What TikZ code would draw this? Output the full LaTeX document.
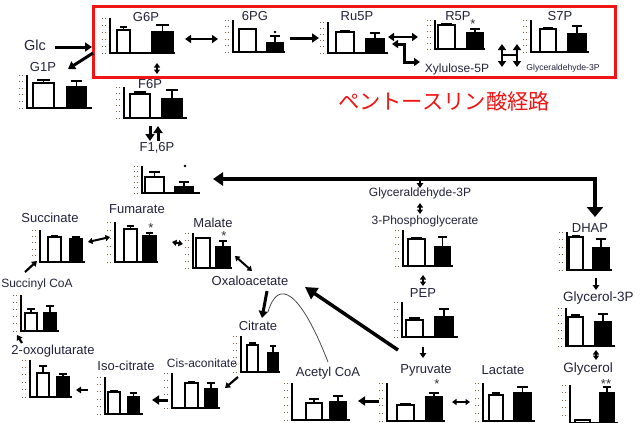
\documentclass[tikz,border=0pt]{standalone}
\usepackage{fontspec}
\setmainfont{Liberation Sans}
\newfontfamily\cjkfont{Noto Sans CJK JP}
\usetikzlibrary{arrows.meta}
\definecolor{lblc}{RGB}{35,35,60}
\definecolor{tickc}{RGB}{125,95,65}
\definecolor{boxred}{RGB}{240,20,20}
\tikzset{
  lbl/.style={font=\fontsize{13}{13}\selectfont, text=lblc, inner sep=0pt},
  midlbl/.style={font=\fontsize{12}{12}\selectfont, text=lblc, inner sep=0pt},
  biglbl/.style={font=\fontsize{14.5}{14.5}\selectfont, text=lblc, inner sep=0pt},
  glylbl/.style={font=\fontsize{13.5}{13.5}\selectfont, text=lblc, inner sep=0pt},
  smalllbl/.style={font=\fontsize{8.6}{9}\selectfont, text=lblc, inner sep=0pt},
  starlbl/.style={font=\fontsize{13}{13}\selectfont, text=black!80, inner sep=0pt},
  ax/.style={line width=1.1pt, draw=black},
  eb/.style={line width=1.1pt, draw=black},
  wb/.style={draw=black, line width=1.4pt, fill=white},
  bb/.style={draw=black, line width=1.4pt, fill=black},
  tk/.style={line width=1pt, dash pattern=on 1.2pt off 1.3pt, draw=tickc},
  dotmark/.style={circle, fill=black, inner sep=0pt, minimum size=2.6pt},
  arr/.style={line width=3pt, -{Triangle[length=7pt,width=9pt]}},
  darr/.style={line width=2.6pt, {Triangle[length=6pt,width=8pt]}-{Triangle[length=6pt,width=8pt]}},
  sarr/.style={line width=2.2pt, -{Triangle[length=5pt,width=6.5pt]}},
  sdarr/.style={line width=2pt, {Triangle[length=4.5pt,width=6pt]}-{Triangle[length=4.5pt,width=6pt]}},
}
\newcommand\chartaxes[4]{%
  \def\cb{#3}%
  \foreach \i in {0,...,5}{\pgfmathsetmacro\yy{#3+(#2-#3)*\i/5}\draw[tk] (#1-8,\yy) -- (#1-3,\yy);}%
  \draw[ax] (#1,#2) -- (#1,#3) -- (#4,#3);}
\newcommand\wbar[4]{%
  \draw[eb] ({(#1+#2)/2},#3) -- ({(#1+#2)/2},#4) ({(#1+#2)/2-0.3*(#2-#1)},#4) -- ({(#1+#2)/2+0.3*(#2-#1)},#4);
  \draw[wb] (#1,\cb) rectangle (#2,#3);}
\newcommand\bbar[4]{%
  \draw[eb] ({(#1+#2)/2},#3) -- ({(#1+#2)/2},#4) ({(#1+#2)/2-0.3*(#2-#1)},#4) -- ({(#1+#2)/2+0.3*(#2-#1)},#4);
  \draw[bb] (#1,\cb) rectangle (#2,#3);}
\begin{document}
\begin{tikzpicture}[x=1pt,y=-1pt]
\fill[white] (0,0) rectangle (640,423);
\useasboundingbox (0,0) rectangle (640,423);

% ---------- pentose phosphate box ----------
\draw[boxred, line width=3pt] (93,6) rectangle (615,77);
\node[font=\cjkfont\fontsize{21.3}{22}\selectfont, text=boxred, inner sep=0pt] (ppp) at (444,101) {ペントースリン酸経路};

% ---------- charts ----------
% G1P
\chartaxes{27}{75}{108}{92}\wbar{33}{54}{83}{80}\bbar{67}{86}{87}{81}
% G6P
\chartaxes{110}{18}{53}{175}\wbar{117}{130}{30}{27}\bbar{152}{173}{32}{25}
% 6PG
\chartaxes{233}{20}{52}{285}\wbar{239}{256}{29}{29}\bbar{267}{283}{43}{36}
% Ru5P
\chartaxes{328}{22}{53}{388}\wbar{336}{354}{32}{31}\bbar{366}{384}{39}{33}
% R5P
\chartaxes{435}{20}{49}{485}\wbar{438}{455}{25}{24}\bbar{467}{483}{33}{29}
% S7P
\chartaxes{531}{20}{52}{589}\wbar{540}{556}{29}{28}\bbar{568}{586}{34}{26}
% F6P
\chartaxes{124}{87}{118}{187}\wbar{130}{150}{94}{92}\bbar{162}{182}{99}{90}
% F1,6P
\chartaxes{142}{166}{193}{200}\wbar{145}{164}{177}{172}\bbar{175}{193}{187}{182}
% Succinate
\chartaxes{40}{230}{262}{85}\wbar{48}{61}{237}{236}\bbar{70}{82}{239}{237}
% Fumarate
\chartaxes{115}{222}{262}{158}\wbar{124}{137}{229}{226}\bbar{143}{156}{236}{233}
% Malate
\chartaxes{193}{233}{268}{232}\wbar{196}{210}{238}{238}\bbar{216}{230}{247}{241}
% Succinyl CoA
\chartaxes{21}{295}{331}{59}\wbar{25}{37}{313}{309}\bbar{44}{56}{313}{306}
% 2-oxoglutarate
\chartaxes{30}{360}{397}{72}\wbar{37}{49}{373}{366}\bbar{57}{69}{377}{374}
% Iso-citrate
\chartaxes{105}{377}{414}{143}\wbar{108}{120}{392}{391}\bbar{128}{139}{397}{393}
% Cis-aconitate
\chartaxes{172}{373}{408}{220}\wbar{185}{198}{383}{382}\bbar{205}{217}{389}{383}
% Citrate
\chartaxes{241}{336}{372}{280}\wbar{247}{258}{345}{343}\bbar{268}{278}{353}{346}
% Acetyl CoA
\chartaxes{292}{383}{420}{350}\wbar{306}{322}{403}{399}\bbar{330}{346}{402}{396}
% Pyruvate
\chartaxes{387}{383}{421}{445}\wbar{397}{414}{405}{404}\bbar{426}{442}{397}{393}
% Lactate
\chartaxes{483}{383}{421}{535}\wbar{489}{503}{395}{393}\bbar{514}{531}{393}{387}
% 3-Phosphoglycerate
\chartaxes{403}{230}{266}{453}\wbar{408}{425}{239}{238}\bbar{435}{450}{247}{237}
% PEP
\chartaxes{402}{302}{337}{458}\wbar{406}{423}{320}{318}\bbar{435}{453}{317}{309}
% DHAP
\chartaxes{567}{232}{270}{612}\wbar{569}{583}{237}{236}\bbar{593}{609}{248}{239}
% Glycerol-3P
\chartaxes{566}{308}{346}{615}\wbar{568}{583}{317}{315}\bbar{595}{611}{322}{314}
% Glycerol
\chartaxes{570}{385}{423}{618}\wbar{575}{590}{420}{420}\bbar{600}{614}{393}{387}

% ---------- significance marks ----------
\node[dotmark] (pgdot) at (275,32) {};
\node[dotmark] (f16dot) at (185,166) {};
\node[starlbl] (r5pstar) at (473,24) {*};
\node[starlbl] (fumstar) at (151,228) {*};
\node[starlbl] (malstar) at (224,236) {*};
\node[starlbl] (pyrstar) at (437,384) {*};
\node[starlbl] (glystar) at (606,384) {**};

% ---------- labels ----------
\node[biglbl] (glc) at (35,45) {Glc};
\node[lbl] (g1p) at (43,67) {G1P};
\node[lbl] (g6p) at (146,17) {G6P};
\node[lbl] (pg6) at (255,16) {6PG};
\node[lbl] (ru5p) at (357,16) {Ru5P};
\node[lbl] (r5p) at (458,16) {R5P};
\node[lbl] (s7p) at (560,16) {S7P};
\node[midlbl] (xu5p) at (457,69) {Xylulose-5P};
\node[smalllbl] (gap1) at (563,68) {Glyceraldehyde-3P};
\node[lbl] (f6p) at (150,84) {F6P};
\node[lbl] (f16p) at (157,148) {F1,6P};
\node[midlbl] (gap) at (420,193) {Glyceraldehyde-3P};
\node[midlbl] (pga) at (425,221) {3-Phosphoglycerate};
\node[lbl] (dhap) at (590,228) {DHAP};
\node[lbl] (pep) at (423,293) {PEP};
\node[glylbl, anchor=west] (g3p) at (563,298) {Glycerol-3P};
\node[lbl] (pyr) at (426,370) {Pyruvate};
\node[lbl] (lac) at (503,370) {Lactate};
\node[glylbl] (gly) at (588,369) {Glycerol};
\node[lbl] (acoa) at (328,373) {Acetyl CoA};
\node[lbl] (suc) at (50,218) {Succinate};
\node[lbl] (fum) at (137,209) {Fumarate};
\node[lbl] (mal) at (213,223) {Malate};
\node[lbl] (oaa) at (250,281) {Oxaloacetate};
\node[lbl] (cit) at (258,326) {Citrate};
\node[midlbl] (cis) at (202,363) {Cis-aconitate};
\node[lbl] (iso) at (126,366) {Iso-citrate};
\node[lbl] (oxo) at (53,351) {2-oxoglutarate};
\node[midlbl] (scoa) at (37,284) {Succinyl CoA};

% ---------- connector end points ----------
\coordinate (glcE) at (55,47);   \coordinate (boxW) at (92,47);
\coordinate (boxSW) at (93,53);  \coordinate (g1pIn) at (68,69);
\coordinate (g6pR) at (185,39);  \coordinate (pgL) at (218,39);
\coordinate (pgR) at (290,38);   \coordinate (ruL) at (319,38);
\coordinate (ruR) at (388,37);   \coordinate (r5L) at (418,37);
\coordinate (z1) at (392,44);    \coordinate (z2) at (404,44);
\coordinate (z3) at (404,62);    \coordinate (z4) at (420,62);
\coordinate (h1) at (502,44);    \coordinate (h2) at (502,67);
\coordinate (h3) at (517,44);    \coordinate (h4) at (517,67);
\coordinate (hm1) at (502,55);   \coordinate (hm2) at (517,55);
\coordinate (g6pS) at (157,63);  \coordinate (f6pN) at (157,74);
\coordinate (dnA) at (150,126);  \coordinate (dnB) at (150,141);
\coordinate (upA) at (158,141);  \coordinate (upB) at (158,126);
\coordinate (f16In) at (213,179); \coordinate (loopC) at (595,179);
\coordinate (dhapIn) at (595,217);
\coordinate (gapTop) at (420,178); \coordinate (gapIn) at (420,188);
\coordinate (gapS) at (420,203); \coordinate (pgaN) at (420,214);
\coordinate (pgaS) at (423,275); \coordinate (pepN) at (423,286);
\coordinate (pepS) at (423,347); \coordinate (pyrN) at (423,358);
\coordinate (pyrNW) at (398,350); \coordinate (oaaIn) at (305,287);
\coordinate (pyrE) at (452,402); \coordinate (lacW) at (470,402);
\coordinate (pyrW) at (379,401); \coordinate (acoaE) at (358,401);
\coordinate (dhapS) at (596,278); \coordinate (g3pN) at (596,290);
\coordinate (g3pS) at (596,350); \coordinate (glyN) at (596,360);
\coordinate (oaaS) at (267,291); \coordinate (citN) at (262,318);
\coordinate (acoaN) at (328,362); \coordinate (joinP) at (268,312);
\coordinate (citSW) at (238,377); \coordinate (cisE) at (225,388);
\coordinate (cisW) at (168,400); \coordinate (isoE) at (152,400);
\coordinate (isoW) at (88,390);  \coordinate (oxoE) at (76,390);
\coordinate (oxoN) at (22,343);  \coordinate (scoaS) at (17,335);
\coordinate (scoaN) at (25,272); \coordinate (sucSW) at (37,261);
\coordinate (fumW) at (110,237); \coordinate (sucE) at (88,242);
\coordinate (malW) at (183,244); \coordinate (fumE) at (172,242);
\coordinate (oaaNW) at (252,271); \coordinate (malSE) at (235,256);

% ---------- connectors ----------
\draw[arr] (glcE) -- (boxW);
\draw[arr] (boxSW) -- (g1pIn);
\draw[darr] (g6pR) -- (pgL);
\draw[arr] (pgR) -- (ruL);
\draw[darr] (ruR) -- (r5L);
\draw[line width=3pt, line join=miter, {Triangle[length=6pt,width=8pt]}-{Triangle[length=6pt,width=8pt]}] (z1) -- (z2) -- (z3) -- (z4);
\draw[darr] (h1) -- (h2);
\draw[darr] (h3) -- (h4);
\draw[line width=2.6pt] (hm1) -- (hm2);
\draw[sdarr] (g6pS) -- (f6pN);
\draw[arr] (dnA) -- (dnB);
\draw[arr] (upA) -- (upB);
\draw[line width=4pt, line join=miter, {Triangle[length=10pt,width=13pt]}-{Triangle[length=10pt,width=16pt]}] (f16In) -- (loopC) -- (dhapIn);
\draw[sarr] (gapTop) -- (gapIn);
\draw[sdarr] (gapS) -- (pgaN);
\draw[sdarr] (pgaS) -- (pepN);
\draw[sarr] (pepS) -- (pyrN);
\draw[line width=3.5pt, -{Triangle[length=12pt,width=13pt]}] (pyrNW) -- (oaaIn);
\draw[sdarr] (pyrE) -- (lacW);
\draw[arr] (pyrW) -- (acoaE);
\draw[sarr] (dhapS) -- (g3pN);
\draw[sdarr] (g3pS) -- (glyN);
\draw[arr] (oaaS) -- (citN);
\draw[black!70, line width=0.8pt] (acoaN) .. controls (300,290) and (278,278) .. (joinP);
\draw[sarr] (citSW) -- (cisE);
\draw[arr] (cisW) -- (isoE);
\draw[sarr] (isoW) -- (oxoE);
\draw[sarr] (oxoN) -- (scoaS);
\draw[sarr] (scoaN) -- (sucSW);
\draw[sdarr] (fumW) -- (sucE);
\draw[sdarr] (malW) -- (fumE);
\draw[sdarr] (oaaNW) -- (malSE);
\end{tikzpicture}
\end{document}
